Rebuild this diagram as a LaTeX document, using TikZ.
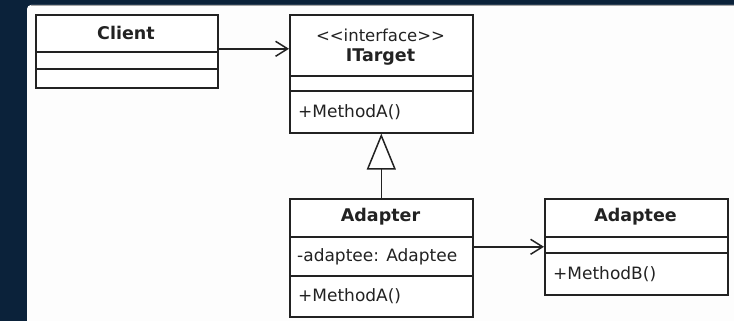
\documentclass[tikz,border=0pt]{standalone}
\usepackage{fontspec}
\setmainfont{DejaVu Sans}
\usetikzlibrary{arrows.meta}
\definecolor{navy}{HTML}{0B223A}
\definecolor{panel}{HTML}{FDFDFD}
\definecolor{ink}{HTML}{222222}

\begin{document}
\begin{tikzpicture}[x=1pt,y=-1pt,
  classbox/.style={draw=ink, line width=1.6pt, fill=white, anchor=north west,
    inner sep=0pt, minimum width=#1},
  divider/.style={draw=ink, line width=1.6pt},
  classname/.style={font=\fontsize{17.5}{20}\selectfont\bfseries, text=ink, inner sep=0pt},
  stereo/.style={font=\fontsize{16.5}{19}\selectfont, text=ink, inner sep=0pt},
  member/.style={font=\fontsize{17}{20}\selectfont, text=ink, anchor=west, inner sep=0pt},
  assoc/.style={draw=ink, line width=1.5pt,
    -{Straight Barb[length=12pt, width=15pt, line width=1.5pt]}},
  realize/.style={draw=ink, line width=1.5pt,
    -{Triangle[open, length=36pt, width=29pt, line width=1.5pt, fill=white]}}]

% frame and canvas
\useasboundingbox (0,0) rectangle (734,321);
\fill[navy] (0,0) rectangle (734,321);
\fill[panel] (27,321) [rounded corners=4pt] -- (27,5) [sharp corners] -- (734,5) -- (734,321) -- cycle;
\draw[black!35, line width=0.8pt] (31,5.4) -- (734,5.4);

% Client
\node[classbox=182pt, minimum height=73pt] (client) at (35,14) {};
\draw[divider] (35,52) -- (217,52);
\draw[divider] (35,69) -- (217,69);
\node[classname] (clientname) at (126,33) {Client};

% ITarget
\node[classbox=183pt, minimum height=118pt] (itarget) at (289,14) {};
\draw[divider] (289,76) -- (472,76);
\draw[divider] (289,91) -- (472,91);
\node[stereo] (itargetstereo) at (380.5,35) {<{}<interface>{}>};
\node[classname] (itargetname) at (380.5,57) {ITarget};
\node[member] (itargetop) at (298,112) {+MethodA()};

% Adapter
\node[classbox=183pt, minimum height=118pt] (adapter) at (289,198) {};
\draw[divider] (289,237) -- (472,237);
\draw[divider] (289,276) -- (472,276);
\node[classname] (adaptername) at (380.5,217) {Adapter};
\node[member] (adapterattr) at (297,257) {-adaptee: Adaptee};
\node[member] (adapterop) at (298,296) {+MethodA()};

% Adaptee
\node[classbox=183pt, minimum height=96pt] (adaptee) at (544,198) {};
\draw[divider] (544,237) -- (727,237);
\draw[divider] (544,253) -- (727,253);
\node[classname] (adapteename) at (635.5,217) {Adaptee};
\node[member] (adapteeop) at (553,274) {+MethodB()};

% relationships
\coordinate (clientout) at ([yshift=2.5pt]client.east);
\draw[assoc] (clientout) -- (clientout -| itarget.west);
\draw[realize] (adapter.north) -- (itarget.south);
\draw[assoc] (adaptee.west -| adapter.east) -- (adaptee.west);
\end{tikzpicture}
\end{document}
